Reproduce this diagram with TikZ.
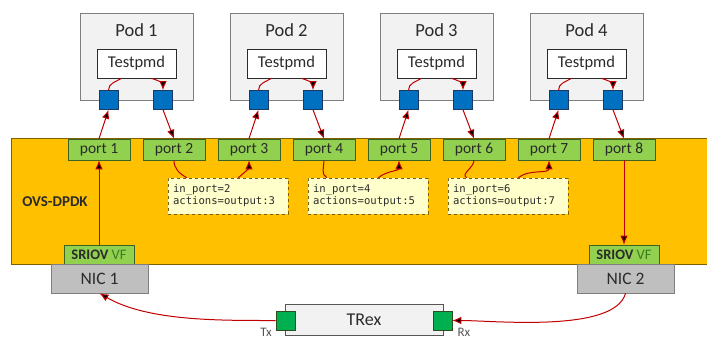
\documentclass[tikz,border=0pt]{standalone}
\usepackage{fontspec}
\setmainfont{Carlito}
\setmonofont{DejaVu Sans Mono}
\usetikzlibrary{arrows.meta,positioning}
\definecolor{ovsfill}{HTML}{FFC000}
\definecolor{ovsline}{HTML}{7F6000}
\definecolor{portfill}{HTML}{92D050}
\definecolor{portline}{HTML}{3B6322}
\definecolor{vportfill}{HTML}{0070C0}
\definecolor{vportline}{HTML}{1F3864}
\definecolor{podfill}{HTML}{F2F2F2}
\definecolor{podline}{HTML}{7F7F7F}
\definecolor{nicfill}{HTML}{BFBFBF}
\definecolor{rulefill}{HTML}{FFFFCC}
\definecolor{flowred}{HTML}{C00000}
\definecolor{iofill}{HTML}{00B050}
\definecolor{ioline}{HTML}{2E4E1F}
\definecolor{vfgreen}{HTML}{3A7D22}
\definecolor{txt}{HTML}{2B2B2B}

\begin{document}
\begin{tikzpicture}[>={Latex[length=9pt,width=7.5pt]}, x=1pt, y=1pt, node distance=75pt, semithick]
\tikzstyle{pod}=[draw=podline, fill=podfill, minimum width=113pt, minimum height=87pt]
\tikzstyle{podtitle}=[text=txt, font=\fontsize{18.5}{21}\selectfont]
\tikzstyle{app}=[draw=txt, fill=white, text=txt, minimum width=79pt, minimum height=29pt, inner sep=0pt, font=\fontsize{16.5}{19}\selectfont]
\tikzstyle{vport}=[draw=vportline, fill=vportfill, minimum size=19pt, inner sep=0pt]
\tikzstyle{ovs}=[draw=ovsline, fill=ovsfill, minimum width=699pt, minimum height=126pt]
\tikzstyle{port}=[draw=portline, fill=portfill, text=txt, minimum width=62pt, minimum height=21pt, inner sep=0pt, font=\fontsize{15.5}{18}\selectfont]
\tikzstyle{rule}=[draw=ovsline, dashed, fill=rulefill, text=txt, text width=110pt, inner sep=5pt, minimum height=36pt, align=left, font=\ttfamily\fontsize{10.6}{12}\selectfont]
\tikzstyle{vf}=[draw=portline, fill=portfill, text=txt, minimum width=70pt, minimum height=19pt, inner sep=0pt, font=\fontsize{14.5}{16}\selectfont]
\tikzstyle{nic}=[draw=podline, fill=nicfill, text=txt, minimum width=97pt, minimum height=29pt, font=\fontsize{17.5}{20}\selectfont]
\tikzstyle{trexbox}=[draw=txt!80, fill=podfill, text=txt, minimum width=158pt, minimum height=31pt, font=\fontsize{18}{20}\selectfont]
\tikzstyle{io}=[draw=ioline, fill=iofill, minimum size=19pt, inner sep=0pt]
\tikzstyle{iolabel}=[text=txt!80, font=\fontsize{13}{15}\selectfont]
\tikzstyle{flow}=[draw=flowred, line width=1pt]
\useasboundingbox (0,0) rectangle (707,338);

% pods
\node[pod]      (pod1) at (136.5,281.5) {};
\node[podtitle] (t1)   at (136.5,308)   {Pod 1};
\node[app]      (tp1)  at (136.5,274.5) {Testpmd};
\node[vport]    (s11)  at (108.5,238)   {};
\node[vport]    (s12)  at (163,238)     {};

\node[pod]      (pod2) at (286.5,281.5) {};
\node[podtitle] (t2)   at (286.5,308)   {Pod 2};
\node[app]      (tp2)  at (286.5,274.5) {Testpmd};
\node[vport]    (s21)  at (258.5,238)   {};
\node[vport]    (s22)  at (313,238)     {};

\node[pod]      (pod3) at (436.5,281.5) {};
\node[podtitle] (t3)   at (436.5,308)   {Pod 3};
\node[app]      (tp3)  at (436.5,274.5) {Testpmd};
\node[vport]    (s31)  at (408.5,238)   {};
\node[vport]    (s32)  at (463,238)     {};

\node[pod]      (pod4) at (586.5,281.5) {};
\node[podtitle] (t4)   at (586.5,308)   {Pod 4};
\node[app]      (tp4)  at (586.5,274.5) {Testpmd};
\node[vport]    (s41)  at (558.5,238)   {};
\node[vport]    (s42)  at (613,238)     {};

% ovs-dpdk
\node[ovs] (ovs) at (360.5,137) {};
\node[text=txt, font=\bfseries\fontsize{15}{17}\selectfont] (ovslabel) at (55,136) {OVS-DPDK};
\node[port] (p1) at (99,188.5) {port 1};
\node[port] (p2)[right of=p1] {port 2};
\node[port] (p3)[right of=p2] {port 3};
\node[port] (p4)[right of=p3] {port 4};
\node[port] (p5)[right of=p4] {port 5};
\node[port] (p6)[right of=p5] {port 6};
\node[port] (p7)[right of=p6] {port 7};
\node[port] (p8)[right of=p7] {port 8};

\node[rule] (f1) at (228,142) {in\_port=2\\actions=output:3};
\node[rule] (f2) at (368,142) {in\_port=4\\actions=output:5};
\node[rule] (f3) at (508,142) {in\_port=6\\actions=output:7};

\node[vf] (v1) at (99,83.5)  {\textbf{SRIOV} \textcolor{vfgreen}{VF}};
\node[vf] (v2) at (624,83.5) {\textbf{SRIOV} \textcolor{vfgreen}{VF}};

% nics and traffic generator
\node[nic] (n1) at (99.5,59.5)  {NIC 1};
\node[nic] (n2) at (625.5,59.5) {NIC 2};
\node[trexbox] (trex) at (364,18.5) {TRex};
\node[io] (tx) at (285.5,17.5) {};
\node[io] (rx) at (442.5,17.5) {};
\node[iolabel] (txl) at (266,6) {Tx};
\node[iolabel] (rxl) at (464,6) {Rx};

\path[flow]
(s11.north) edge[-, out=90, in=-150]  (tp1.-135)
(tp1.-45)   edge[->, out=-15, in=90]  (s12.north)
(s21.north) edge[-, out=90, in=-150]  (tp2.-135)
(tp2.-45)   edge[->, out=-15, in=90]  (s22.north)
(s31.north) edge[-, out=90, in=-150]  (tp3.-135)
(tp3.-45)   edge[->, out=-15, in=90]  (s32.north)
(s41.north) edge[-, out=90, in=-150]  (tp4.-135)
(tp4.-45)   edge[->, out=-15, in=90]  (s42.north)
(p1.north)  edge[->]  (s11.south)
(s12.south) edge[->]  (p2.north)
(p3.north)  edge[->]  (s21.south)
(s22.south) edge[->]  (p4.north)
(p5.north)  edge[->]  (s31.south)
(s32.south) edge[->]  (p6.north)
(p7.north)  edge[->]  (s41.south)
(s42.south) edge[->]  (p8.north)
(p2.south)  edge[-, out=-90, in=150]  ([xshift=19pt]f1.north west)
([xshift=-50pt]f1.north east) edge[->, out=40, in=-90] (p3.south)
(p4.south)  edge[-, out=-90, in=150]  ([xshift=19pt]f2.north west)
([xshift=-50pt]f2.north east) edge[->, out=40, in=-90] (p5.south)
(p6.south)  edge[-, out=-90, in=150]  ([xshift=19pt]f3.north west)
([xshift=-50pt]f3.north east) edge[->, out=40, in=-90] (p7.south)
(v1.north)  edge[->]  (p1.south)
(p8.south)  edge[->]  (v2.north)
(tx.west)   edge[->, out=180, in=-30, looseness=0.8] (n1.south)
(n2.south)  edge[->, out=-105, in=0, looseness=0.6]  (rx.east);
\end{tikzpicture}
\end{document}
